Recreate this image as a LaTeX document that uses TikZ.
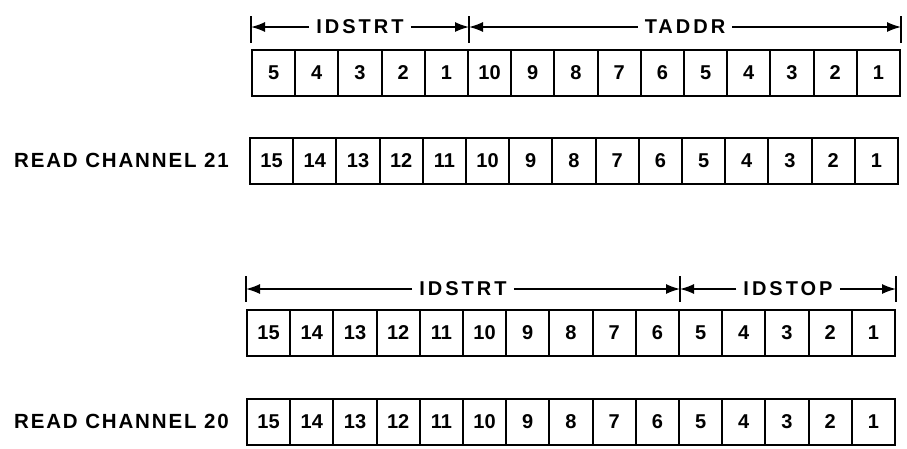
\documentclass[tikz,border=0pt]{standalone}
\usepackage{fontspec}
\usetikzlibrary{positioning,calc,arrows.meta}
\newfontfamily\lettering{Liberation Sans}[LetterSpace=9]
\newfontfamily\widelettering{Liberation Sans}[LetterSpace=15]
\newfontfamily\digits{Liberation Sans}

\begin{document}
\begin{tikzpicture}[
	x=1pt, y=-1pt,
	bitcell/.style={ draw, line width=2pt, minimum width=43.2pt, minimum height=46pt, inner sep=0pt, font=\digits\bfseries\fontsize{20}{22}\selectfont },
	chanlabel/.style={ inner sep=0pt, font=\lettering\bfseries\fontsize{20.5}{24}\selectfont },
	dimlabel/.style={ inner sep=7pt, font=\widelettering\bfseries\fontsize{20}{24}\selectfont },
	dimline/.style={ line width=1.5pt, -{Latex[length=14pt,width=10pt]} },
	tickline/.style={ line width=1.5pt }
]
\useasboundingbox (0,0) rectangle (907,448);

% upper pair of words
\foreach \lab [count=\k] in {5,4,3,2,1,10,9,8,7,6,5,4,3,2,1}
	\node[bitcell] (ta\k) at ({252+43.2*(\k-0.5)},73) {\lab};
\foreach \lab [count=\k] in {15,14,13,12,11,10,9,8,7,6,5,4,3,2,1}
	\node[bitcell] (chb\k) at ({250+43.2*(\k-0.5)},160.5) {\lab};
\node[chanlabel, left=20pt of chb1] (chbname) {READ CHANNEL 21};

% ticks and field widths over the first word
\draw[tickline] (ta1.north west |- 0,16) -- (ta1.north west |- 0,43);
\draw[tickline] (ta5.north east |- 0,16) -- (ta5.north east |- 0,43);
\draw[tickline] (ta15.north east |- 0,16) -- (ta15.north east |- 0,43);
\node[dimlabel] (idstrta) at ($(ta1.north west |- 0,27)!0.5!(ta5.north east |- 0,27)$) {IDSTRT};
\node[dimlabel] (taddr) at ($(ta5.north east |- 0,27)!0.5!(ta15.north east |- 0,27)$) {TADDR};
\draw[dimline] (idstrta) -- (ta1.north west |- 0,27);
\draw[dimline] (idstrta) -- (ta5.north east |- 0,27);
\draw[dimline] (taddr) -- (ta5.north east |- 0,27);
\draw[dimline] (taddr) -- (ta15.north east |- 0,27);

% lower pair of words
\foreach \lab [count=\k] in {15,14,13,12,11,10,9,8,7,6,5,4,3,2,1}
	\node[bitcell] (id\k) at ({247+43.2*(\k-0.5)},332.5) {\lab};
\foreach \lab [count=\k] in {15,14,13,12,11,10,9,8,7,6,5,4,3,2,1}
	\node[bitcell] (cha\k) at ({247+43.2*(\k-0.5)},421.5) {\lab};
\node[chanlabel, left=17pt of cha1] (chaname) {READ CHANNEL 20};

% ticks and field widths over the third word
\draw[tickline] (id1.north west |- 0,276) -- (id1.north west |- 0,302);
\draw[tickline] (id10.north east |- 0,276) -- (id10.north east |- 0,302);
\draw[tickline] (id15.north east |- 0,276) -- (id15.north east |- 0,302);
\node[dimlabel] (idstrtb) at ($(id1.north west |- 0,289)!0.5!(id10.north east |- 0,289)$) {IDSTRT};
\node[dimlabel] (idstop) at ($(id10.north east |- 0,289)!0.5!(id15.north east |- 0,289)$) {IDSTOP};
\draw[dimline] (idstrtb) -- (id1.north west |- 0,289);
\draw[dimline] (idstrtb) -- (id10.north east |- 0,289);
\draw[dimline] (idstop) -- (id10.north east |- 0,289);
\draw[dimline] (idstop) -- (id15.north east |- 0,289);

\end{tikzpicture}
\end{document}
